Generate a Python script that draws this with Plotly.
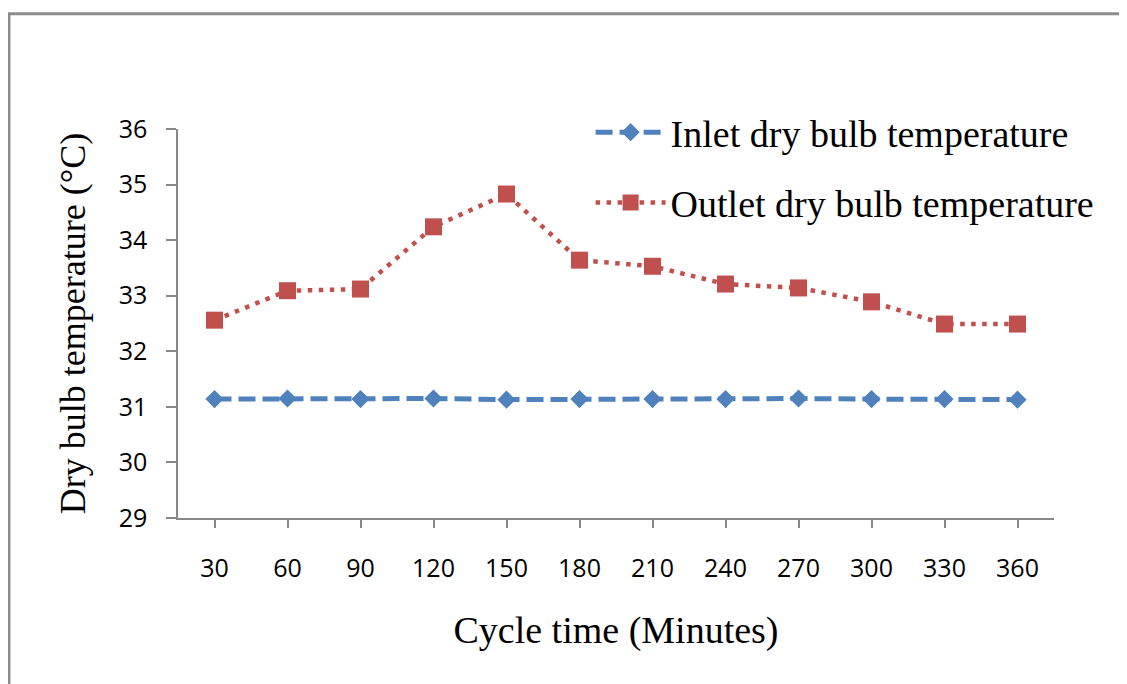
import plotly.graph_objects as go

cycle_time = ["30", "60", "90", "120", "150", "180", "210", "240", "270", "300", "330", "360"]
inlet_temp = [31.14, 31.15, 31.14, 31.15, 31.13, 31.14, 31.14, 31.14, 31.15, 31.14, 31.14, 31.13]
outlet_temp = [32.56, 33.09, 33.12, 34.24, 34.83, 33.64, 33.53, 33.21, 33.14, 32.89, 32.49, 32.49]
y_ticks = [29, 30, 31, 32, 33, 34, 35, 36]

BLUE = "#4F81BD"
RED = "#C0504D"
AXIS = "#888888"
SERIF = "Liberation Serif, Times New Roman, serif"
SANS = "Open Sans, Liberation Sans, sans-serif"

fig = go.Figure()
fig.add_trace(go.Scatter(
    x=cycle_time, y=inlet_temp, mode="lines+markers",
    name="Inlet dry bulb temperature", legendgroup="a",
    line=dict(color=BLUE, width=5, dash="17px,7px"),
    marker=dict(symbol="diamond", size=14, color=BLUE),
))
fig.add_trace(go.Scatter(
    x=cycle_time, y=outlet_temp, mode="lines+markers",
    name="Outlet dry bulb temperature", legendgroup="b",
    line=dict(color=RED, width=4.5, dash="4.5px,6.5px"),
    marker=dict(symbol="square", size=17, color=RED),
))

fig.update_layout(
    width=1127, height=684,
    margin=dict(l=170, r=81, t=121, b=174),
    paper_bgcolor="white", plot_bgcolor="white",
    showlegend=True,
    legend=dict(
        x=0.471, y=1.072, xanchor="left", yanchor="top",
        font=dict(family=SERIF, size=38, color="black"),
        tracegroupgap=18, bgcolor="rgba(0,0,0,0)",
        itemwidth=70,
    ),
    shapes=[dict(
        type="rect", xref="paper", yref="paper",
        x0=-0.193, x1=1.2, y0=-0.6, y1=1.296,
        line=dict(color="#8c8c8c", width=3), fillcolor="rgba(0,0,0,0)",
        layer="below",
    )],
)
fig.update_xaxes(
    type="category", range=[-0.5, 11.5],
    showline=True, linecolor=AXIS, linewidth=1.5,
    ticks="outside", ticklen=8, tickcolor=AXIS, tickwidth=1.5,
    showgrid=False, zeroline=False,
    tickfont=dict(family=SANS, size=25, color="black"),
    ticklabelstandoff=19,
    title=dict(text="Cycle time (Minutes)", font=dict(family=SERIF, size=38, color="black"), standoff=34),
)
fig.update_yaxes(
    range=[29, 36], tickvals=y_ticks,
    showline=True, linecolor=AXIS, linewidth=1.5,
    ticks="outside", ticklen=10, tickcolor=AXIS, tickwidth=1.5,
    showgrid=False, zeroline=False,
    tickfont=dict(family=SANS, size=25, color="black"),
    ticklabelstandoff=14,
    title=dict(text="Dry bulb temperature (°C)", font=dict(family=SERIF, size=36, color="black"), standoff=22),
)

fig.write_html("out.html")
